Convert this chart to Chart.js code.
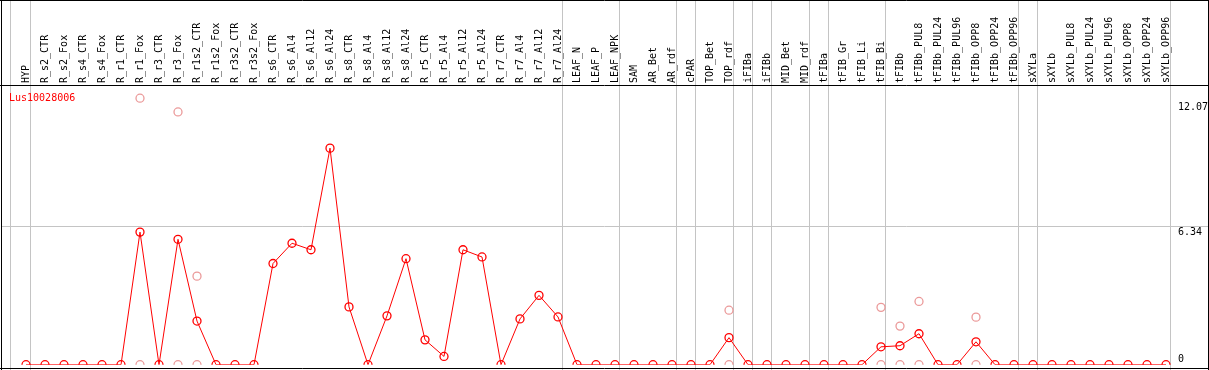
<!DOCTYPE html>
<html>
<head>
<meta charset="utf-8">
<title>Lus10028006</title>
<script src="https://cdn.jsdelivr.net/npm/chart.js@4/dist/chart.umd.min.js"></script>
<style>
  html, body { margin: 0; padding: 0; background: #fff; }
  canvas { display: block; }
</style>
</head>
<body>
<canvas id="chart" width="1209" height="370"></canvas>
<script>
/* Expression profile for one gene across tissues / treatments.
 * Red line = mean value, pink circles = individual replicates. */

var GENE_NAME = 'Lus10028006';

var CATEGORIES = [
  'HYP', 'R_s2_CTR', 'R_s2_Fox', 'R_s4_CTR', 'R_s4_Fox', 'R_r1_CTR', 'R_r1_Fox',
  'R_r3_CTR', 'R_r3_Fox', 'R_r1s2_CTR', 'R_r1s2_Fox', 'R_r3s2_CTR', 'R_r3s2_Fox',
  'R_s6_CTR', 'R_s6_Al4', 'R_s6_Al12', 'R_s6_Al24', 'R_s8_CTR', 'R_s8_Al4',
  'R_s8_Al12', 'R_s8_Al24', 'R_r5_CTR', 'R_r5_Al4', 'R_r5_Al12', 'R_r5_Al24',
  'R_r7_CTR', 'R_r7_Al4', 'R_r7_Al12', 'R_r7_Al24', 'LEAF_N', 'LEAF_P', 'LEAF_NPK',
  'SAM', 'AR_Bet', 'AR_rdf', 'cPAR', 'TOP_Bet', 'TOP_rdf', 'iFIBa', 'iFIBb',
  'MID_Bet', 'MID_rdf', 'tFIBa', 'tFIB_Gr', 'tFIB_Li', 'tFIB_Bi', 'tFIBb',
  'tFIBb_PUL8', 'tFIBb_PUL24', 'tFIBb_PUL96', 'tFIBb_OPP8', 'tFIBb_OPP24', 'tFIBb_OPP96',
  'sXYLa', 'sXYLb', 'sXYLb_PUL8', 'sXYLb_PUL24', 'sXYLb_PUL96', 'sXYLb_OPP8',
  'sXYLb_OPP24', 'sXYLb_OPP96'
];

/* mean per category */
var MEAN_VALUES = [
  0, 0, 0, 0, 0, 0, 6.08,
  0, 5.75, 2.00, 0, 0, 0,
  4.64, 5.57, 5.27, 9.93, 2.65, 0,
  2.24, 4.86, 1.14, 0.38, 5.27, 4.94,
  0, 2.10, 3.18, 2.19, 0, 0, 0,
  0, 0, 0, 0, 0, 1.24, 0, 0,
  0, 0, 0, 0, 0, 0.82, 0.87,
  1.42, 0, 0, 1.05, 0, 0,
  0, 0, 0, 0, 0, 0,
  0, 0
];

/* replicate values (only where they show apart from the mean) */
var REP_HIGH = [
  null, null, null, null, null, null, 12.22,
  null, 11.59, 4.06, null, null, null,
  null, null, null, null, null, null,
  null, null, null, null, null, null,
  null, null, null, null, null, null, null,
  null, null, null, null, null, 2.50, null, null,
  null, null, null, null, null, 2.63, 1.77,
  2.90, null, null, 2.18, null, null,
  null, null, null, null, null, null,
  null, null
];

var REP_LOW = [
  null, null, null, null, null, null, 0,
  null, 0, 0, null, null, null,
  null, null, null, null, null, null,
  null, null, null, null, null, null,
  null, null, null, null, null, null, null,
  null, null, null, null, null, 0, null, null,
  null, null, null, null, null, 0, 0,
  0, null, null, 0, null, null,
  null, null, null, null, null, null,
  null, null
];

/* y-axis labels shown at the right */
var Y_TICKS = [12.07, 6.34, 0];
var Y_MAX = 12.78;

/* index of the last category in each group (-1 = before the first) */
var GROUP_ENDS = [-1, 0, 28, 31, 34, 35, 37, 38, 39, 41, 42, 45, 52, 53, 60];

(function () {
  'use strict';

  var FONT = '10px "DejaVu Sans Mono", "Liberation Mono", monospace';
  var GRID = '#c4c4c4';
  var W = 1209, H = 370;
  var HEADER_Y = 85.5;

  var framePlugin = {
    id: 'frame',
    beforeDatasetsDraw: function (chart) {
      var c = chart.ctx, xs = chart.scales.x, ys = chart.scales.y;
      c.save();
      c.strokeStyle = GRID;
      c.lineWidth = 1;
      /* group separators, full height */
      GROUP_ENDS.forEach(function (i) {
        var x = Math.floor(xs.getPixelForValue(i) + 4) + 0.5;
        if (i < 0) x -= 1;
        c.beginPath(); c.moveTo(x, 0); c.lineTo(x, H); c.stroke();
      });
      /* mid gridline */
      var gy = Math.floor(ys.getPixelForValue(Y_TICKS[1])) + 0.5;
      c.beginPath(); c.moveTo(1, gy); c.lineTo(W - 1, gy); c.stroke();
      c.restore();
    },
    afterDraw: function (chart) {
      var c = chart.ctx, xs = chart.scales.x, ys = chart.scales.y;
      c.save();
      c.font = FONT;

      /* rotated category labels in the header */
      c.fillStyle = '#000';
      c.textAlign = 'left';
      c.textBaseline = 'alphabetic';
      CATEGORIES.forEach(function (lab, i) {
        var px = xs.getPixelForValue(i);
        c.save();
        c.translate(px + 3, 83);
        c.rotate(-Math.PI / 2);
        c.fillText(lab, 0, 0);
        c.restore();
      });

      /* value labels */
      Y_TICKS.forEach(function (v) {
        var py = ys.getPixelForValue(v);
        c.fillText(String(v), 1178, v === 0 ? py - 2.5 : py + 8.5);
      });

      /* gene name */
      c.fillStyle = '#ff0000';
      c.fillText(GENE_NAME, 9, 101);

      /* black frame + header rule */
      c.strokeStyle = '#000';
      c.lineWidth = 1;
      c.beginPath();
      c.moveTo(0, 0.5); c.lineTo(W, 0.5);
      c.moveTo(0, HEADER_Y); c.lineTo(W, HEADER_Y);
      c.moveTo(0, 368.5); c.lineTo(W, 368.5);
      c.moveTo(1.5, 0); c.lineTo(1.5, H);
      c.moveTo(1208.5, 0); c.lineTo(1208.5, H);
      c.stroke();
      c.restore();
    }
  };

  function pointSet(data, color, order, line) {
    return {
      data: data,
      showLine: line,
      borderColor: color,
      borderWidth: 1,
      pointRadius: 4,
      pointBorderWidth: 1.3,
      pointBackgroundColor: 'rgba(255,255,255,0)',
      pointBorderColor: color,
      tension: 0,
      spanGaps: false,
      order: order
    };
  }

  new Chart(document.getElementById('chart'), {
    type: 'line',
    data: {
      labels: CATEGORIES,
      datasets: [
        pointSet(MEAN_VALUES, '#ff0000', 0, true),
        pointSet(REP_HIGH, '#eb9a9a', 1, false),
        pointSet(REP_LOW, '#eb9a9a', 1, false)
      ]
    },
    options: {
      responsive: false,
      animation: false,
      devicePixelRatio: 1,
      layout: { padding: { left: 26, right: 43, top: 86, bottom: 1.5 } },
      plugins: { legend: { display: false }, tooltip: { enabled: false } },
      scales: {
        x: { display: false, offset: false },
        y: { display: false, min: 0, max: Y_MAX }
      }
    },
    plugins: [framePlugin]
  });
})();
</script>
</body>
</html>
